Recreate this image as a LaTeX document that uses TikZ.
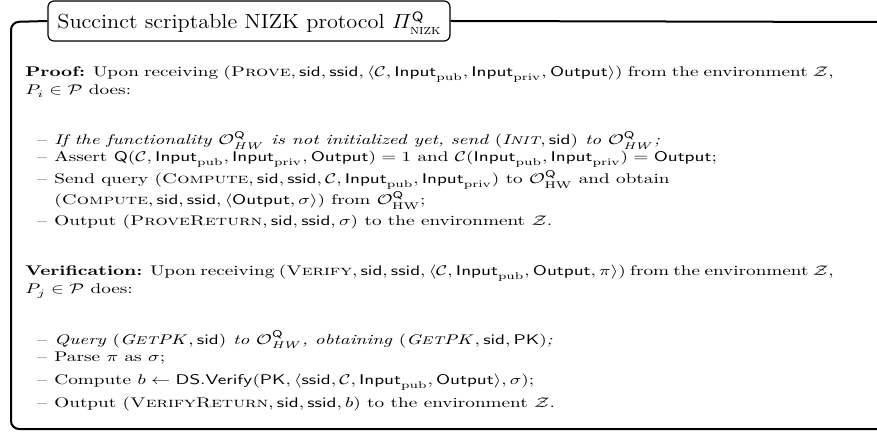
\documentclass[tikz,border=0pt]{standalone}
\usepackage{amsmath,amssymb,graphicx}
\newcommand{\Sid}{\mathsf{sid}}
\newcommand{\Ssid}{\mathsf{ssid}}
\newcommand{\Inp}[1]{\mathsf{Input}_{\mathrm{#1}}}
\newcommand{\Outp}{\mathsf{Output}}
\newcommand{\OHW}{\mathcal{O}^{\mathsf{Q}}_{\mathit{HW}}}
\newcommand{\OHWr}{\mathcal{O}^{\mathsf{Q}}_{\mathrm{HW}}}
\newcommand{\itsc}[2]{\textit{#1{\footnotesize #2}}}
% text is set a little flatter than its natural shape
\newcommand{\squash}[1]{\scalebox{0.96}[0.7]{#1}}
\newcommand{\squashtitle}[1]{\scalebox{0.93}[0.85]{#1}}
\tikzset{
  frame/.style={line width=1pt, rounded corners=4pt},
  tbox/.style={draw, line width=0.6pt, rounded corners=3pt, fill=white,
    minimum width=201pt, minimum height=20pt, inner sep=0pt},
  ln/.style={anchor=base west, inner sep=0pt},
  bulletmark/.style={anchor=base west, inner sep=0pt}
}
\begin{document}
\begin{tikzpicture}[x=0.5pt,y=-0.5pt]
\useasboundingbox (0,0) rectangle (877,432);
% outer frame corners
\coordinate (fTL) at (11,22);
\coordinate (fBL) at (11,429);
\coordinate (fBR) at (877,429);
\coordinate (fTR) at (877,22);
\node[tbox] (tshape) at (249,21) {};
\draw[frame] (tshape.west) -- (fTL) -- (fBL) -- (fBR);
\draw[frame] (tshape.east) -- (fTR);
\node[ln] (title) at (57,29) {\squashtitle{\large Succinct scriptable NIZK protocol $\varPi^{\mathsf{Q}}_{\text{\textsc{nizk}}}$}};

% proof paragraph
\node[ln] (p1) at (25,77) {\squash{\makebox[421pt][s]{\textbf{Proof:} Upon receiving $(\textsc{Prove}, \Sid, \Ssid, \langle \mathcal{C}, \Inp{pub}, \Inp{priv}, \Outp\rangle)$ from the environment $\mathcal{Z}$,}}};
\node[ln] (p2) at (25,95) {\squash{$P_i \in \mathcal{P}$ does:}};

\node[bulletmark] (d1) at (37,145) {\squash{--}};
\node[ln] (i1) at (54,145) {\squash{\textit{If the functionality $\OHW$ is not initialized yet, send $(\itsc{I}{NIT}, \Sid)$ to $\OHW$;}}};
\node[bulletmark] (d2) at (37,162) {\squash{--}};
\node[ln] (i2) at (54,162) {\squash{Assert $\mathsf{Q}(\mathcal{C}, \Inp{pub}, \Inp{priv}, \Outp) = 1$ and $\mathcal{C}(\Inp{pub}, \Inp{priv}) = \Outp$;}};
\node[bulletmark] (d3) at (37,184) {\squash{--}};
\node[ln] (i3) at (54,184) {\squash{Send query $(\textsc{Compute}, \Sid, \Ssid, \mathcal{C}, \Inp{pub}, \Inp{priv})$ to $\OHWr$ and obtain}};
\node[ln] (i3b) at (54,205) {\squash{$(\textsc{Compute}, \Sid, \Ssid, \langle \Outp, \sigma\rangle)$ from $\OHWr$;}};
\node[bulletmark] (d4) at (37,226) {\squash{--}};
\node[ln] (i4) at (54,226) {\squash{Output $(\textsc{ProveReturn}, \Sid, \Ssid, \sigma)$ to the environment $\mathcal{Z}$.}};

% verification paragraph
\node[ln] (v1) at (25,276) {\squash{\makebox[421pt][s]{\textbf{Verification:} Upon receiving $(\textsc{Verify}, \Sid, \Ssid, \langle \mathcal{C}, \Inp{pub}, \Outp, \pi\rangle)$ from the environment $\mathcal{Z}$,}}};
\node[ln] (v2) at (25,294) {\squash{$P_j \in \mathcal{P}$ does:}};

\node[bulletmark] (e1) at (37,344) {\squash{--}};
\node[ln] (j1) at (54,344) {\squash{\textit{Query $(\itsc{G}{ET}\mathit{PK}, \Sid)$ to $\OHW$, obtaining $(\itsc{G}{ET}\mathit{PK}, \Sid, \mathsf{PK})$;}}};
\node[bulletmark] (e2) at (37,362) {\squash{--}};
\node[ln] (j2) at (54,362) {\squash{Parse $\pi$ as $\sigma$;}};
\node[bulletmark] (e3) at (37,385) {\squash{--}};
\node[ln] (j3) at (54,385) {\squash{Compute $b \leftarrow \mathsf{DS.Verify}(\mathsf{PK}, \langle \Ssid, \mathcal{C}, \Inp{pub}, \Outp\rangle, \sigma)$;}};
\node[bulletmark] (e4) at (37,407) {\squash{--}};
\node[ln] (j4) at (54,407) {\squash{Output $(\textsc{VerifyReturn}, \Sid, \Ssid, b)$ to the environment $\mathcal{Z}$.}};
\end{tikzpicture}
\end{document}
